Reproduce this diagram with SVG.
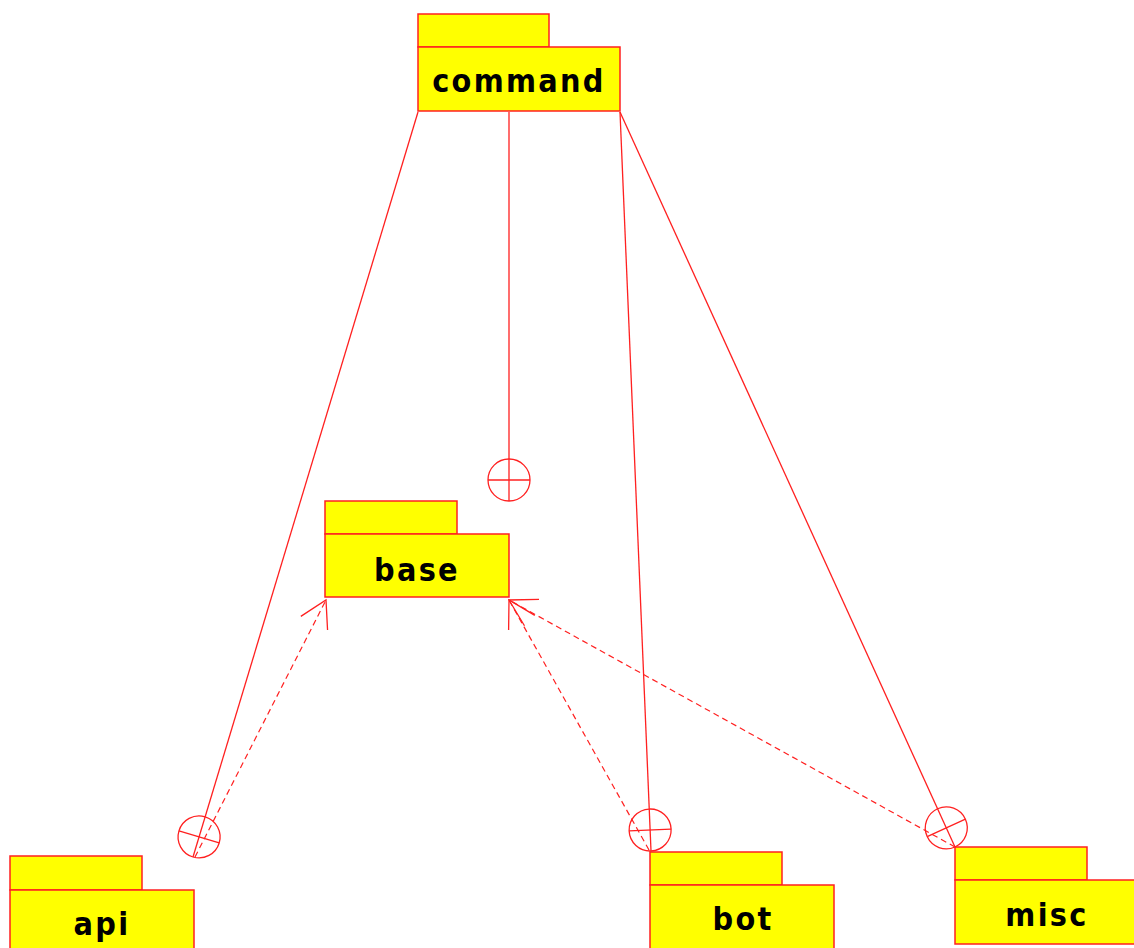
<svg xmlns="http://www.w3.org/2000/svg" width="1134" height="948" viewBox="0 0 1134 948">
  <style>
    .pkg rect { fill: #ffff00; stroke: #ff2020; stroke-width: 1.5; }
    .pkg text { font-family: "DejaVu Sans Condensed", "DejaVu Sans", sans-serif; font-weight: bold; font-size: 32px; letter-spacing: 2.3px; fill: #000; text-anchor: middle; }
    .nest { fill: none; stroke: #ff2020; stroke-width: 1.3; marker-end: url(#nest); }
    .dep { fill: none; stroke: #ff2020; stroke-width: 1.2; stroke-dasharray: 6 4; marker-end: url(#open); }
  </style>
  <defs>
    <!-- containment symbol: circle with cross at the child end -->
    <marker id="nest" markerUnits="userSpaceOnUse" markerWidth="50" markerHeight="50" viewBox="-46 -25 50 50" refX="0" refY="0" orient="auto" overflow="visible">
      <circle cx="-21" cy="0" r="21" fill="none" stroke="#ff2020" stroke-width="1.3"/>
      <line x1="-21" y1="-21" x2="-21" y2="21" stroke="#ff2020" stroke-width="1.3"/>
    </marker>
    <!-- open arrowhead for dependencies -->
    <marker id="open" markerUnits="userSpaceOnUse" markerWidth="40" markerHeight="40" viewBox="-35 -20 40 40" refX="0" refY="0" orient="auto" overflow="visible">
      <path d="M -26 -15 L 0 0 L -26 15" fill="none" stroke="#ff2020" stroke-width="1.3"/>
    </marker>
  </defs>

  <g id="connectors">
    <line class="nest" x1="418" y1="112" x2="193" y2="857"/>
    <line class="nest" x1="509" y1="112" x2="509" y2="501"/>
    <line class="nest" x1="620" y1="112" x2="651" y2="851"/>
    <line class="nest" x1="620" y1="112" x2="955" y2="847"/>
    <line class="dep" x1="195" y1="857" x2="326" y2="600"/>
    <line class="dep" x1="649" y1="850" x2="509" y2="600"/>
    <line class="dep" x1="955" y1="847" x2="509" y2="600"/>
  </g>

  <g id="command" class="pkg">
    <rect x="418" y="14" width="131" height="33"/>
    <rect x="418" y="47" width="202" height="64"/>
    <text x="519" y="92">command</text>
  </g>
  <g id="base" class="pkg">
    <rect x="325" y="501" width="132" height="33"/>
    <rect x="325" y="534" width="184" height="63"/>
    <text x="417" y="581">base</text>
  </g>
  <g id="api" class="pkg">
    <rect x="10" y="856" width="132" height="34"/>
    <rect x="10" y="890" width="184" height="62"/>
    <text x="102" y="935">api</text>
  </g>
  <g id="bot" class="pkg">
    <rect x="650" y="852" width="132" height="33"/>
    <rect x="650" y="885" width="184" height="67"/>
    <text x="743" y="930">bot</text>
  </g>
  <g id="misc" class="pkg">
    <rect x="955" y="847" width="132" height="33"/>
    <rect x="955" y="880" width="184" height="64"/>
    <text x="1047" y="926">misc</text>
  </g>
</svg>
